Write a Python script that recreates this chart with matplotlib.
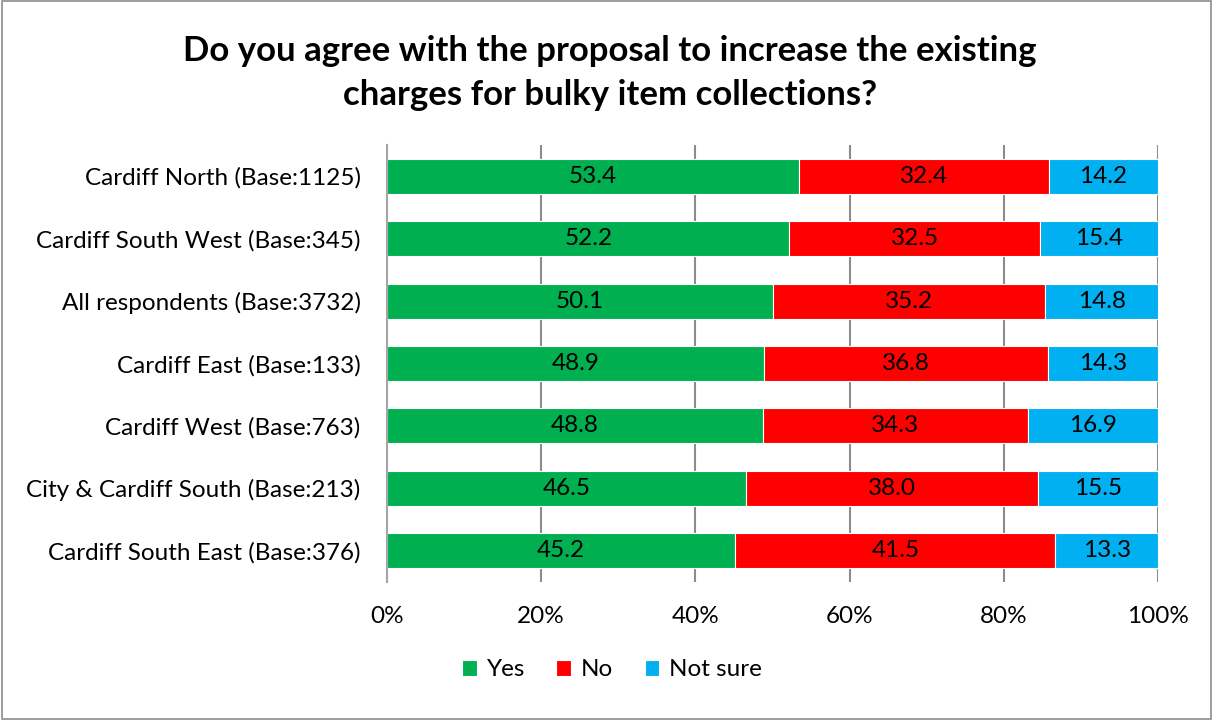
import matplotlib
matplotlib.use("Agg")
import matplotlib.pyplot as plt
from matplotlib.patches import Rectangle

plt.rcParams['font.family'] = ['Lato', 'DejaVu Sans']

categories = [
    "Cardiff North (Base:1125)",
    "Cardiff South West (Base:345)",
    "All respondents (Base:3732)",
    "Cardiff East (Base:133)",
    "Cardiff West (Base:763)",
    "City & Cardiff South (Base:213)",
    "Cardiff South East (Base:376)",
]
yes = [53.4, 52.2, 50.1, 48.9, 48.8, 46.5, 45.2]
no = [32.4, 32.5, 35.2, 36.8, 34.3, 38.0, 41.5]
not_sure = [14.2, 15.4, 14.8, 14.3, 16.9, 15.5, 13.3]
series_names = ["Yes", "No", "Not sure"]
colors = ["#00B050", "#FF0000", "#00B0F0"]
xticks = [0, 20, 40, 60, 80, 100]
xticklabels = ["0%", "20%", "40%", "60%", "80%", "100%"]
title = "Do you agree with the proposal to increase the existing\ncharges for bulky item collections?"

fig = plt.figure(figsize=(12.13, 7.2), dpi=100)
ax = fig.add_axes([387/1213, 1-582/720, (1158-387)/1213, (582-145)/720])

ypos = list(range(len(categories)))[::-1]
left = [0]*len(categories)
for vals, name, col in zip([yes, no, not_sure], series_names, colors):
    ax.barh(ypos, vals, left=left, height=0.56, color=col, label=name,
            edgecolor="white", linewidth=0.8, zorder=3)
    for y, l, v in zip(ypos, left, vals):
        ax.text(l + v/2, y, f"{v:.1f}", ha="center", va="center", fontsize=17.5,
                color="black", zorder=4)
    left = [a+b for a, b in zip(left, vals)]

ax.set_xlim(0, 100)
ax.set_ylim(-0.5, 6.5)
ax.set_xticks(xticks)
ax.set_xticklabels(xticklabels, fontsize=17.5)
ax.set_yticks(ypos)
ax.set_yticklabels(categories, fontsize=17.5)
ax.tick_params(axis='both', length=0)
ax.tick_params(axis='x', pad=17)
ax.tick_params(axis='y', pad=19)
ax.xaxis.grid(True, color="#8C8C8C", linewidth=1.5, zorder=0)
for s in ["top", "right", "bottom"]:
    ax.spines[s].set_visible(False)
ax.spines["left"].set_color("#A6A6A6")
ax.spines["left"].set_linewidth(1.5)
ax.spines["left"].set_zorder(5)

fig.text(610/1213, 1-73/720, title, ha="center", va="center", fontsize=25,
         fontweight="bold", linespacing=1.45)

fig.legend(loc="center", bbox_to_anchor=(612/1213, 1-670/720), ncol=3,
           frameon=False, fontsize=17.5, handlelength=0.6, handleheight=0.6,
           columnspacing=1.3, handletextpad=0.4)

fig.patches.append(Rectangle((0.002, 0.002), 0.996, 0.996, transform=fig.transFigure,
                             fill=False, edgecolor="#8C8C8C", linewidth=1.2))

fig.savefig("out.png", dpi=100)
